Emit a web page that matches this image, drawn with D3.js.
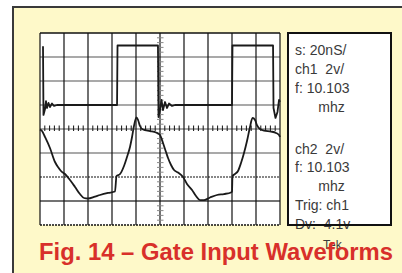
<!DOCTYPE html>
<html><head><meta charset="utf-8">
<script src="https://cdn.jsdelivr.net/npm/d3@7"></script>
<style>
html,body{margin:0;padding:0;background:#fff;}
svg{display:block;}
text{white-space:pre;}
</style></head>
<body>
<script>
// time in ns (20 ns/div), value in volts (2 V/div)
const ch1Time = [2.5,2.9,4.2,5.0,5.8,7.1,8.3,10,11.7,14.2,64.2,64.6,98.3,98.75,100,101.25,102.5,104.2,105.8,107.5,110,112.5,160,160.4,194.2,194.6,196.25,197.9,199.2,200];
const ch1Volts = [6.9,1.17,1.67,2.33,1.75,2.17,1.83,2.12,1.92,2.0,2.0,6.96,6.96,1.0,1.58,2.42,1.58,2.25,1.75,2.12,1.92,2.0,2.0,6.96,6.96,1.75,0.92,1.42,2.42,2.25];
const ch2Time = [0,1.7,4.2,8.3,12.5,15,17.5,20.8,25,29.2,33.3,36.7,40,45.8,50,56.7,62.5,63.75,66.7,70,72.5,75,76.7,78.3,80.4,81.7,83.3,85.8,91.7,96.7,100,102.5,105,106.7,109.2,111.7,115,119.2,122.5,126.7,130,133.3,136.7,141.7,147.5,153.3,159.2,160,160.4,162.5,165,167.5,170,172.5,175,177.1,179.2,180.8,183.3,186.7,192.5,196.7,199.2,200];
const ch2Volts = [-0.04,-0.17,-0.67,-1.58,-2.75,-3.17,-3.5,-3.75,-4.25,-4.83,-5.42,-5.75,-5.79,-5.63,-5.5,-5.33,-5.21,-3.92,-3.75,-3.08,-2.33,-1.5,-0.67,0.25,0.96,0.75,0.25,-0.04,-0.17,-0.29,-0.5,-1.17,-1.92,-2.42,-3.0,-3.42,-3.63,-4.0,-4.58,-5.08,-5.58,-5.92,-5.92,-5.71,-5.5,-5.42,-5.29,-5.21,-3.92,-3.75,-3.5,-2.83,-2.0,-1.0,0.17,0.92,0.75,0.33,0,-0.13,-0.21,-0.33,-0.5,-0.67];
const timeDivs = [0,20,40,60,80,100,120,140,160,180,200];
const voltDivs = [-8,-6,-4,-2,0,2,4,6,8];
const infoTop = ["s: 20nS/","ch1  2v/","f: 10.103","      mhz"];
const infoBottom = ["ch2  2v/","f: 10.103","      mhz","Trig: ch1","Dv:  4.1v"];
const footNote = "Tek";
const title = "Fig. 14 \u2013 Gate Input Waveforms";

const W=402,H=273;
const svg=d3.select("body").append("svg").attr("width",W).attr("height",H);
// outer frame
svg.append("rect").attr("x",13).attr("y",7).attr("width",W).attr("height",H).attr("fill","#fef9c9");
svg.append("line").attr("x1",13).attr("x2",13).attr("y1",6).attr("y2",H).attr("stroke","#3a3a3a").attr("stroke-width",2);
svg.append("line").attr("x1",12).attr("x2",W).attr("y1",7).attr("y2",7).attr("stroke","#3a3a3a").attr("stroke-width",2);

const x=d3.scaleLinear().domain([0,200]).range([40,280]);
const y=d3.scaleLinear().domain([-8,8]).range([225,33]);

const g=svg.append("g");
g.append("rect").attr("x",40).attr("y",33).attr("width",240).attr("height",192).attr("fill","#fff");

// horizontal grid
voltDivs.forEach(v=>{
  let stroke="#8c8c8c",dash=null,sw=1.4;
  if(v===8){stroke="#111";sw=1.4;}
  if(v===-4){stroke="#111";dash="2,1";sw=1.2;}
  if(v===-8){stroke="#111";dash="2,1";sw=1.4;}
  if(v===-6){stroke="#444";sw=1.4;}
  g.append("line").attr("x1",40).attr("x2",280).attr("y1",y(v)).attr("y2",y(v))
   .attr("stroke",stroke).attr("stroke-width",sw).attr("stroke-dasharray",dash);
});
// vertical grid
timeDivs.forEach(t=>{
  g.append("line").attr("x1",x(t)).attr("x2",x(t)).attr("y1",33).attr("y2",225)
   .attr("stroke","#111").attr("stroke-width",1.2);
});
// minor ticks on center horizontal
d3.range(0,200.01,4).forEach(t=>{
  if(t%20===0) return;
  g.append("line").attr("x1",x(t)).attr("x2",x(t)).attr("y1",y(0)-3.5).attr("y2",y(0)+2)
   .attr("stroke","#111").attr("stroke-width",1);
});
// minor ticks on center vertical
d3.range(-8,8.01,0.4).forEach(v=>{
  if(Math.abs(v-Math.round(v/2)*2)<1e-6) return;
  g.append("line").attr("x1",x(100)-3).attr("x2",x(100)+3.5).attr("y1",y(v)).attr("y2",y(v))
   .attr("stroke","#888").attr("stroke-width",1);
});

const line=d3.line().x(d=>x(d[0])).y(d=>y(d[1]));
g.append("path").datum(ch1Time.map((t,i)=>[t,ch1Volts[i]]))
 .attr("d",line).attr("fill","none").attr("stroke","#1a1a1a").attr("stroke-width",1.8).attr("stroke-linejoin","round");
g.append("path").datum(ch2Time.map((t,i)=>[t,ch2Volts[i]]))
 .attr("d",line.curve(d3.curveMonotoneX)).attr("fill","none").attr("stroke","#1a1a1a").attr("stroke-width",1.8);

// info box
const font="'Liberation Sans', Arial, sans-serif";
svg.append("rect").attr("x",288).attr("y",33).attr("width",103).attr("height",192).attr("fill","#fff");
infoTop.forEach((s,i)=>{
  svg.append("text").attr("x",295).attr("y",55+i*19).text(s)
   .attr("font-family",font).attr("font-size",14).attr("fill","#3a3a3a");
});
infoBottom.forEach((s,i)=>{
  svg.append("text").attr("x",295).attr("y",153.5+i*18.8).text(s)
   .attr("font-family",font).attr("font-size",14).attr("fill","#3a3a3a");
});
svg.append("rect").attr("x",288).attr("y",33).attr("width",103).attr("height",192)
 .attr("fill","none").attr("stroke","#111").attr("stroke-width",2);
svg.append("text").attr("x",323).attr("y",248.5).text(footNote)
 .attr("font-family",font).attr("font-size",12).attr("fill","#3a3a3a");

svg.append("text").attr("x",39).attr("y",260).text(title)
 .attr("font-family",font).attr("font-weight","bold").attr("font-size",23.2)
 .attr("fill","#d8302a").attr("textLength",354).attr("lengthAdjust","spacingAndGlyphs");
</script>
</body></html>
